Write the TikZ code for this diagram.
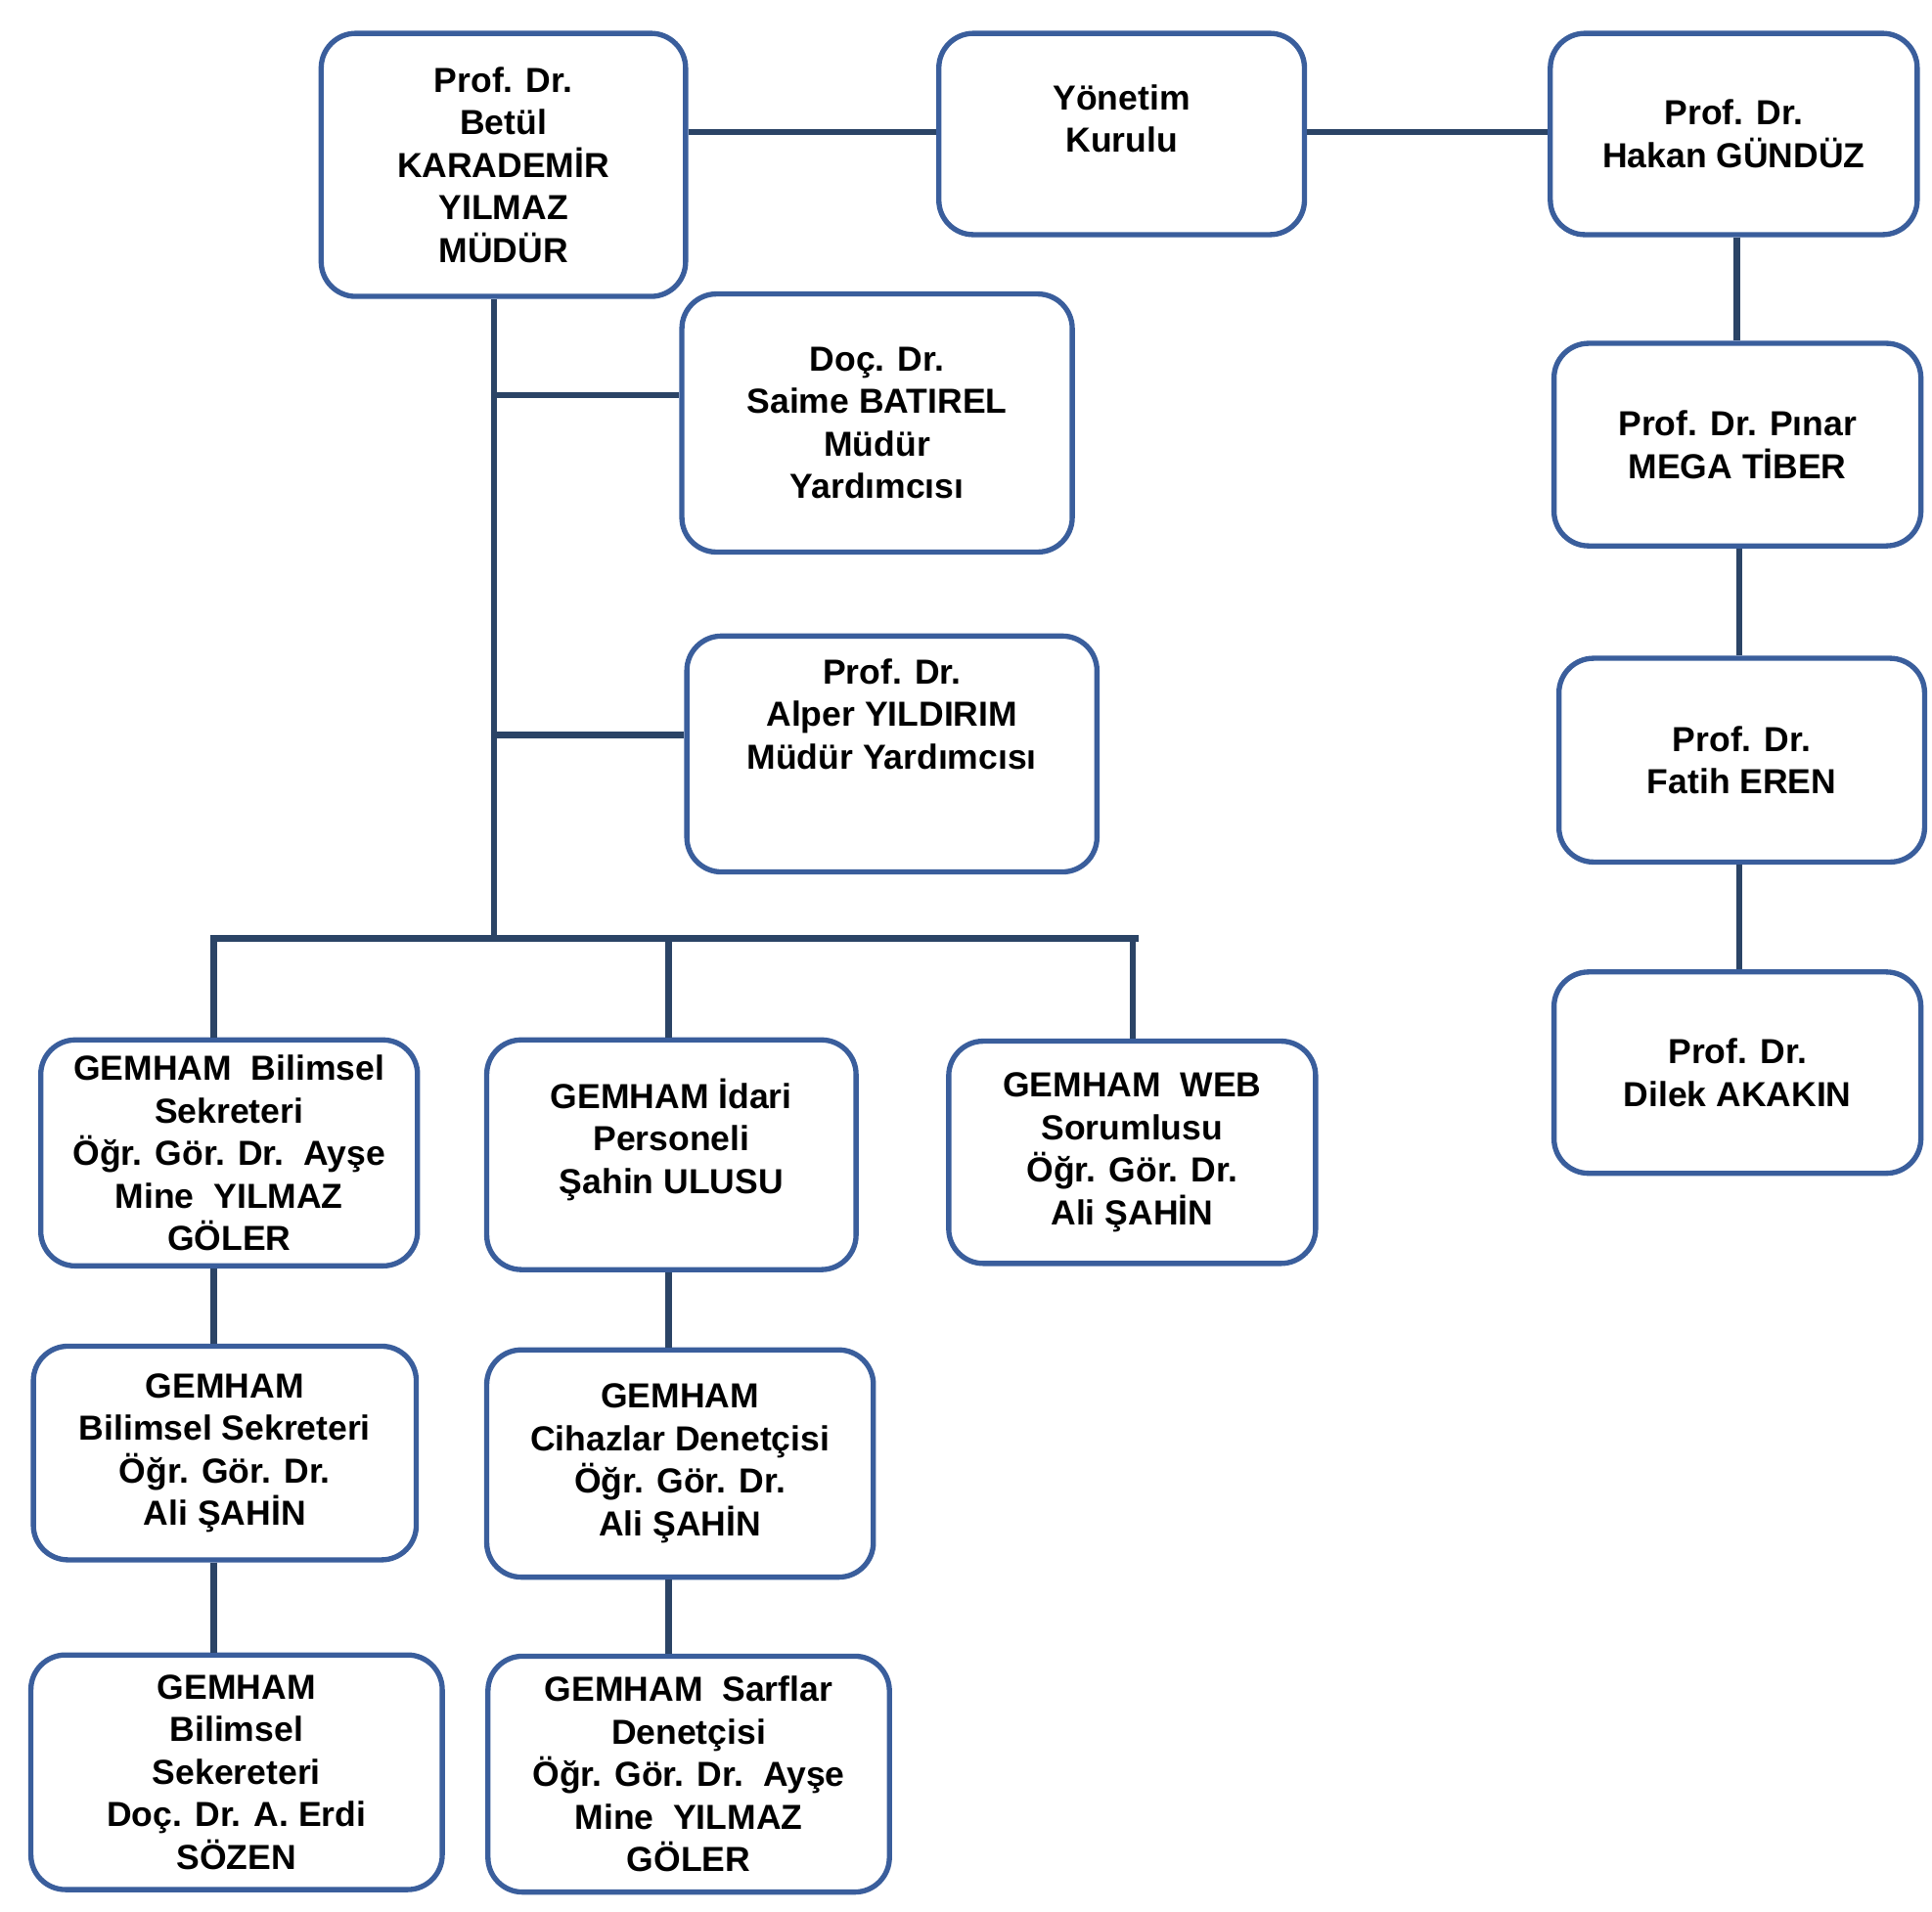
\documentclass[tikz,border=0pt]{standalone}
\usepackage{fontspec}
\setmainfont{Liberation Sans}
\usetikzlibrary{positioning,calc}
\definecolor{boxline}{HTML}{3A5E9C}
\definecolor{linkline}{HTML}{2B4466}
\tikzset{
    unit/.style={rectangle, draw=boxline, line width=1.2pt, rounded corners=0.28cm, fill=white, align=center, font=\fontsize{8}{9.8}\selectfont\bfseries, inner sep=2pt},
    link/.style={draw=linkline, line width=1.5pt}
}
\newcommand{\unitbox}[7][]{% options, name, left, top, right, bottom, text
  \node[unit, minimum width=(#5-#3)*0.01cm, minimum height=(#6-#4)*0.01cm, #1] (#2) at ({(#3+#5)/2},{(#4+#6)/2}) {#7};}
\begin{document}
\begin{tikzpicture}[x=0.01cm, y=-0.01cm]
    \useasboundingbox (0,0) rectangle (1564,1548);

    % Connectors (drawn first, boxes cover them)
    \coordinate (trunk) at (400,758);
    \coordinate (barL) at (170,760);
    \coordinate (barR) at (922,760);
    \coordinate (dropI) at (173,760);
    \coordinate (dropJ) at (541,760);
    \coordinate (dropK) at (917,760);

    % Top row
    \unitbox{mudur}{260}{27}{555}{240}{Prof. Dr.\\Betül\\KARADEMİR\\YILMAZ\\MÜDÜR}
    \unitbox[text depth=0.25cm]{kurul}{760}{27}{1056}{190}{Yönetim\\Kurulu}
    \unitbox{hakan}{1255}{27}{1552}{190}{Prof. Dr.\\Hakan GÜNDÜZ}

    % Deputies
    \unitbox{saime}{552}{238}{868}{447}{Doç. Dr.\\Saime BATIREL\\Müdür\\Yardımcısı}
    \unitbox[text depth=0.65cm]{alper}{556}{515}{888}{706}{Prof. Dr.\\Alper YILDIRIM\\Müdür Yardımcısı}

    % Board members
    \unitbox{pinar}{1258}{278}{1555}{442}{Prof. Dr. Pınar\\MEGA TİBER}
    \unitbox{fatih}{1262}{533}{1558}{698}{Prof. Dr.\\Fatih EREN}
    \unitbox{dilek}{1258}{787}{1555}{950}{Prof. Dr.\\Dilek AKAKIN}

    % Staff
    \unitbox{bilsek}{33}{842}{338}{1025}{GEMHAM\ \ Bilimsel\\Sekreteri\\Öğr. Gör. Dr.\ \ Ayşe\\Mine\ \ YILMAZ\\GÖLER}
    \unitbox[text depth=0.3cm]{idari}{394}{842}{693}{1028}{GEMHAM İdari\\Personeli\\Şahin ULUSU}
    \unitbox{web}{768}{843}{1065}{1023}{GEMHAM\ \ WEB\\Sorumlusu\\Öğr. Gör. Dr.\\Ali ŞAHİN}
    \unitbox{alibil}{27}{1090}{337}{1263}{GEMHAM\\Bilimsel Sekreteri\\Öğr. Gör. Dr.\\Ali ŞAHİN}
    \unitbox{cihaz}{394}{1093}{707}{1277}{GEMHAM\\Cihazlar Denetçisi\\Öğr. Gör. Dr.\\Ali ŞAHİN}
    \unitbox{erdi}{25}{1340}{358}{1530}{GEMHAM\\Bilimsel\\Sekereteri\\Doç. Dr. A. Erdi\\SÖZEN}
    \unitbox{sarf}{395}{1341}{720}{1532}{GEMHAM\ \ Sarflar\\Denetçisi\\Öğr. Gör. Dr.\ \ Ayşe\\Mine\ \ YILMAZ\\GÖLER}

    % Links
    \draw[link] (mudur.east |- 0,107) -- (kurul.west |- 0,107);
    \draw[link] (kurul.east |- 0,107) -- (hakan.west |- 0,107);
    \draw[link] (mudur.south -| trunk) -- (trunk);
    \draw[link] (trunk |- 0,320) -- (saime.west |- 0,320);
    \draw[link] (trunk |- 0,595) -- (alper.west |- 0,595);
    \draw[link] (barL) -- (barR);
    \draw[link] (dropI) -- (bilsek.north -| dropI);
    \draw[link] (dropJ) -- (idari.north -| dropJ);
    \draw[link] (dropK) -- (web.north -| dropK);
    \draw[link] (bilsek.south -| dropI) -- (alibil.north -| dropI);
    \draw[link] (alibil.south -| dropI) -- (erdi.north -| dropI);
    \draw[link] (idari.south -| dropJ) -- (cihaz.north -| dropJ);
    \draw[link] (cihaz.south -| dropJ) -- (sarf.north -| dropJ);
    \draw[link] (hakan.south -| 1406,0) -- (pinar.north -| 1406,0);
    \draw[link] (pinar.south -| 1408,0) -- (fatih.north -| 1408,0);
    \draw[link] (fatih.south -| 1408,0) -- (dilek.north -| 1408,0);
\end{tikzpicture}
\end{document}
